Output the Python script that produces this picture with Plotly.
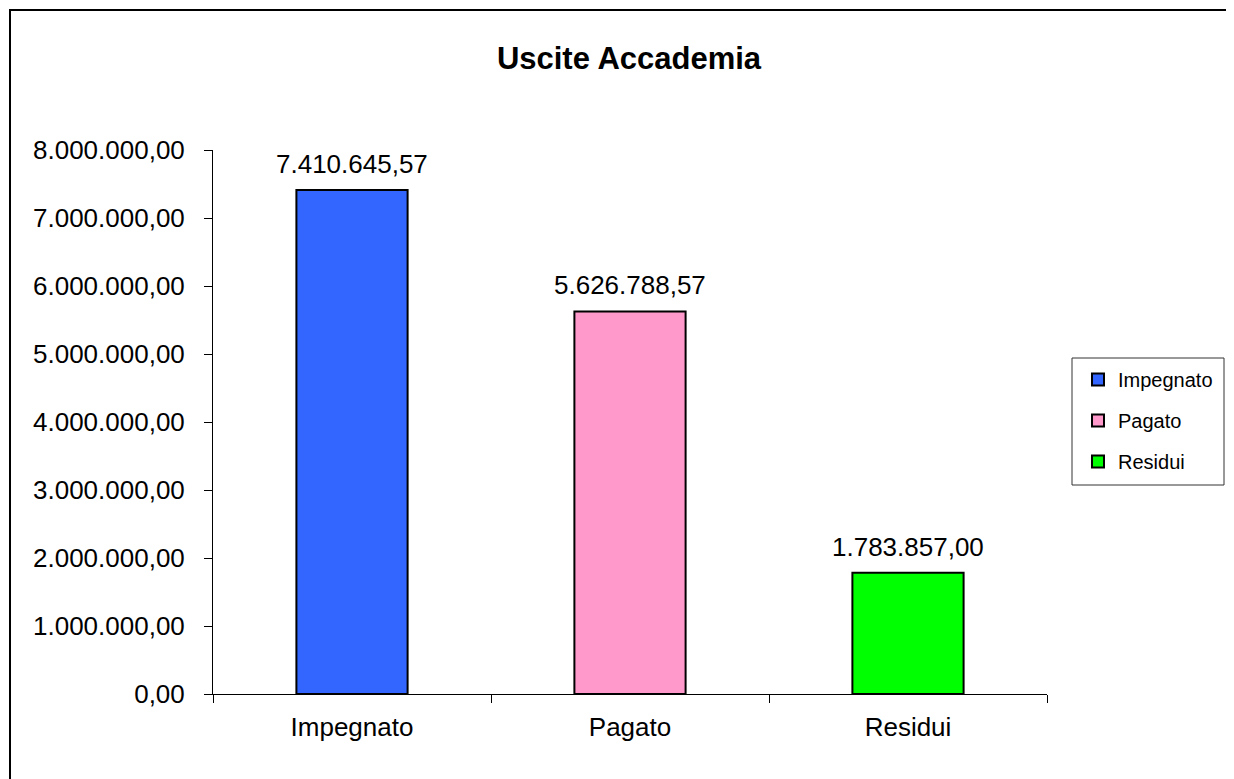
import plotly.graph_objects as go

# data
categories = ['Impegnato', 'Pagato', 'Residui']
values = [7410645.57, 5626788.57, 1783857.00]
colors = ['#3366FF', '#FF99CC', '#00FF00']
y_ticks = [0, 1000000, 2000000, 3000000, 4000000, 5000000, 6000000, 7000000, 8000000]

FONT = 'Liberation Sans, Arial, sans-serif'


def it_format(v):
    # italian style: 1.234.567,89
    s = f"{v:,.2f}"
    return s.replace(',', 'X').replace('.', ',').replace('X', '.')


fig = go.Figure()
for cat, val, col in zip(categories, values, colors):
    fig.add_trace(go.Bar(
        x=[cat], y=[val], name=cat, width=0.4,
        legendgroup=cat,
        marker=dict(color=col, line=dict(color='black', width=2)),
        hoverinfo='x+y'))

annotations = []
for cat, val in zip(categories, values):
    annotations.append(dict(
        x=cat, y=val, text=it_format(val), showarrow=False,
        yanchor='bottom', yshift=9,
        font=dict(family=FONT, size=26, color='black')))

# page body has an 8px margin, so positions below are screen - 8
W, H = 1234, 779
ml, mt = 205, 142
pw, ph = 834, 544
mr, mb = W - ml - pw, H - mt - ph


def px(x):
    return (x - ml) / pw


def py(y):
    return (mt + ph - y) / ph


fig.update_layout(
    width=W, height=H,
    margin=dict(l=ml, r=mr, t=mt, b=mb),
    paper_bgcolor='white', plot_bgcolor='white',
    separators=',.',
    barmode='overlay',
    font=dict(family=FONT, size=26, color='black'),
    title=dict(text='<b>Uscite Accademia</b>', x=621 / W, xref='container',
               xanchor='center', y=1 - 50 / H, yref='container', yanchor='middle',
               font=dict(family=FONT, size=31, color='black')),
    xaxis=dict(range=[-0.5, 2.5], showline=True, linecolor='black', linewidth=1,
               ticks='outside', tickson='boundaries', ticklen=8, tickcolor='black',
               showgrid=False, ticklabelstandoff=10,
               tickfont=dict(family=FONT, size=26, color='black')),
    yaxis=dict(range=[0, 8000000], tickvals=y_ticks, tickformat=',.2f',
               showline=True, linecolor='black', linewidth=1,
               ticks='outside', ticklen=8, tickcolor='black',
               showgrid=False, zeroline=False, ticklabelstandoff=14,
               tickfont=dict(family=FONT, size=26, color='black')),
    legend=dict(x=px(1070), xanchor='left', y=py(352), yanchor='top',
                borderwidth=0, bgcolor='rgba(0,0,0,0)',
                traceorder='grouped', tracegroupgap=12,
                font=dict(family=FONT, size=20, color='black')),
    annotations=annotations,
    shapes=[
        dict(type='rect', xref='paper', yref='paper',
             x0=px(2), x1=1.5, y0=-0.5, y1=py(2),
             line=dict(color='black', width=2), fillcolor='rgba(0,0,0,0)',
             layer='below'),
        dict(type='rect', xref='paper', yref='paper',
             x0=px(1064), x1=px(1216), y0=py(477), y1=py(350),
             line=dict(color='#333333', width=1), fillcolor='rgba(0,0,0,0)',
             layer='below'),
    ],
)

fig.write_html("out.html")
